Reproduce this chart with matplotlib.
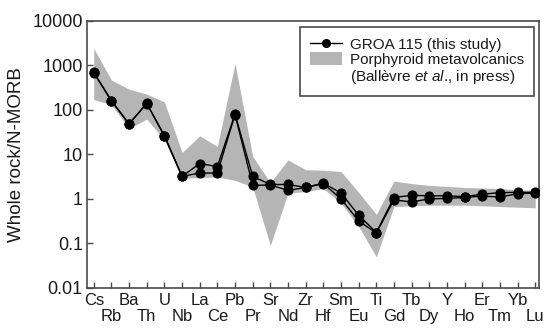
import numpy as np
import matplotlib
matplotlib.use("Agg")
import matplotlib.pyplot as plt
from matplotlib.lines import Line2D
from matplotlib.patches import Patch

plt.rcParams["font.family"] = ["Liberation Sans", "DejaVu Sans"]
plt.rcParams["mathtext.fontset"] = "custom"
plt.rcParams["mathtext.rm"] = "Liberation Sans"
plt.rcParams["mathtext.it"] = "Liberation Sans:italic"

elements = ["Cs", "Rb", "Ba", "Th", "U", "Nb", "La", "Ce", "Pb", "Pr", "Sr", "Nd", "Zr",
            "Hf", "Sm", "Eu", "Ti", "Gd", "Tb", "Dy", "Y", "Ho", "Er", "Tm", "Yb", "Lu"]

# GROA 115, two analyses
groa_a = [700, 160, 48, 140, 26, 3.2, 6.2, 5.3, 80, 3.2, 2.1, 2.1, 1.8,
          2.25, 1.35, 0.43, 0.175, 1.07, 1.2, 1.17, 1.17, 1.12, 1.27, 1.38, 1.4, 1.4]
groa_b = [680, 158, 48, 138, 26, 3.2, 3.8, 3.8, 78, 2.0, 2.05, 1.55, 1.8,
          2.2, 1.0, 0.32, 0.17, 0.95, 0.85, 1.0, 1.02, 1.08, 1.15, 1.1, 1.3, 1.35]

# Porphyroid metavolcanics envelope
band_hi = [2400, 465, 290, 225, 150, 11, 26, 15, 1100, 9, 2.3, 7.5, 4.5,
           4.4, 4.1, 1.4, 0.45, 2.5, 2.2, 2.0, 1.9, 1.8, 1.75, 1.7, 1.6, 1.55]
band_lo = [170, 130, 38, 62, 21, 2.9, 3.0, 3.1, 2.6, 1.85, 0.09, 1.35, 1.45,
           1.7, 0.8, 0.24, 0.05, 0.67, 0.7, 0.72, 0.72, 0.72, 0.7, 0.67, 0.65, 0.63]

x = np.arange(len(elements))
edge = "#4a4a4a"
txt = "#1a1a1a"

fig = plt.figure(figsize=(5.44, 3.34), dpi=100)
ax = fig.add_axes([0.16, 0.138, 0.831, 0.800])

ax.fill_between(x, band_lo, band_hi, color="#b5b5b5", lw=0, zorder=1)
for ys in (groa_a, groa_b):
    ax.plot(x, ys, color="black", lw=1.0, marker="o", ms=6.3, zorder=3)

ax.set_yscale("log")
ax.set_ylim(0.01, 10000)
ax.set_xlim(-0.38, 25.22)
ax.set_yticks([0.01, 0.1, 1, 10, 100, 1000, 10000])
ax.set_yticklabels(["0.01", "0.1", "1", "10", "100", "1000", "10000"])
ax.yaxis.set_minor_locator(matplotlib.ticker.NullLocator())

# staggered element labels: even ones on first row, odd ones on second
ax.set_xticks(x[::2])
ax.set_xticklabels(elements[::2])
ax.set_xticks(x[1::2], minor=True)
ax.set_xticklabels(elements[1::2], minor=True)

ax.tick_params(axis="y", direction="in", length=4, width=1, color=edge,
               labelsize=13, labelcolor=txt, pad=3)
ax.tick_params(axis="x", which="both", direction="in", length=4, width=1, color=edge,
               labelsize=12, labelcolor=txt)
ax.tick_params(axis="x", which="major", pad=3.5)
ax.tick_params(axis="x", which="minor", pad=15.5)
for s in ax.spines.values():
    s.set_color(edge)
    s.set_linewidth(1.2)

ax.set_ylabel("Whole rock/N-MORB", fontsize=13.5, color=txt, labelpad=5)

handles = [Line2D([], [], color="black", lw=1.0, marker="o", ms=5.5),
           Patch(facecolor="#b5b5b5", edgecolor="none"),
           Patch(facecolor="none", edgecolor="none")]
labels = ["GROA 115 (this study)", "Porphyroid metavolcanics",
          "(Ballèvre $\\it{et\\ al}$., in press)"]
leg = ax.legend(handles, labels, loc="upper right", bbox_to_anchor=(0.989, 0.976),
                borderaxespad=0, fontsize=11, fancybox=False, framealpha=1,
                edgecolor=edge, labelspacing=0.05, handlelength=2.1,
                handletextpad=0.5, borderpad=0.65, handleheight=0.9)
leg.get_frame().set_linewidth(1.2)
for t in leg.get_texts():
    t.set_color(txt)

fig.savefig("out.png", dpi=100)
